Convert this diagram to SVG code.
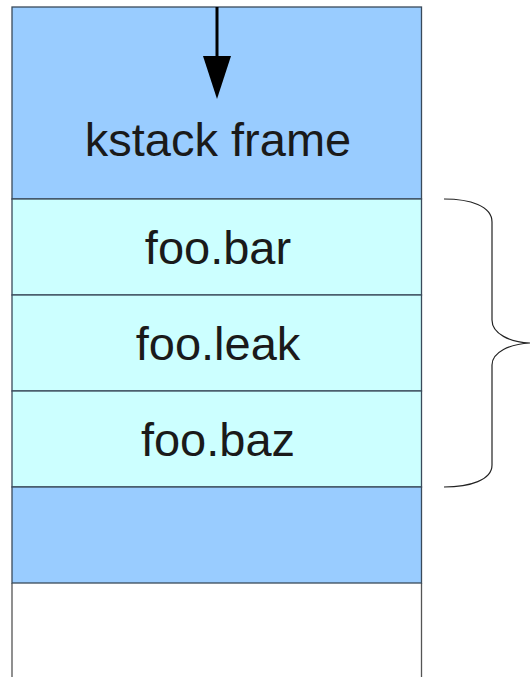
<svg xmlns="http://www.w3.org/2000/svg" width="530" height="677" viewBox="0 0 530 677">
<style>
.cell{stroke:#3a4a5a;stroke-width:1.3}
.blue{fill:#99ccff}
.cyan{fill:#ccffff}
.lbl{font-family:"Liberation Sans",Arial,sans-serif;font-size:47px;fill:#1a1a1a;text-anchor:middle}
</style>
<defs>
<marker id="ah" markerUnits="userSpaceOnUse" markerWidth="44" markerHeight="28" refX="14" refY="14" orient="auto" viewBox="0 0 44 28">
<path d="M0,0 L43,14 L0,28 Z" fill="#000"/>
</marker>
</defs>
<rect x="0" y="0" width="530" height="677" fill="#fff"/>
<g id="white-area">
<path d="M12,583 V677 M421.5,583 V677" stroke="#555" stroke-width="1.3" fill="none"/>
</g>
<g id="kstack">
<rect class="cell blue" x="12" y="7" width="409.5" height="192"/>
<text class="lbl" x="218" y="156">kstack frame</text>
</g>
<g id="foo-bar">
<rect class="cell cyan" x="12" y="199" width="409.5" height="96"/>
<text class="lbl" x="218" y="264">foo.bar</text>
</g>
<g id="foo-leak">
<rect class="cell cyan" x="12" y="295" width="409.5" height="96"/>
<text class="lbl" x="218" y="360">foo.leak</text>
</g>
<g id="foo-baz">
<rect class="cell cyan" x="12" y="391" width="409.5" height="96"/>
<text class="lbl" x="218" y="456">foo.baz</text>
</g>
<g id="lower">
<rect class="cell blue" x="12" y="487" width="409.5" height="96"/>
</g>
<g id="connectors">
<line x1="217" y1="7" x2="217" y2="70" stroke="#000" stroke-width="3" marker-end="url(#ah)"/>
<path d="M444,199 C470,199 492,206 492,222 V320 C492,334 510,342 530,343 C510,344 492,352 492,365 V465 C492,480 470,487 444,487" fill="none" stroke="#222" stroke-width="1.2"/>
</g>
</svg>
